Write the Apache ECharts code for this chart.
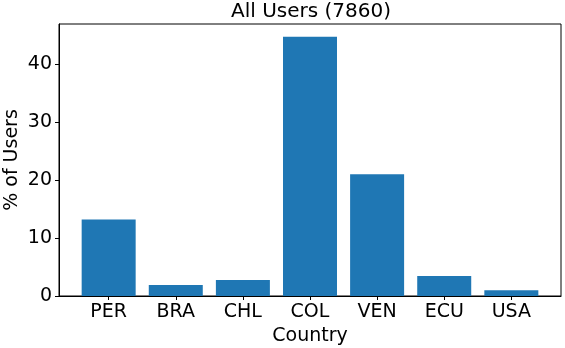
<!DOCTYPE html>
<html>
<head>
<meta charset="utf-8">
<script src="https://cdn.jsdelivr.net/npm/echarts@6/dist/echarts.min.js"></script>
<style>
  html, body { margin: 0; padding: 0; background: #fff; }
  #main { width: 565px; height: 348px; }
</style>
</head>
<body>
<div id="main"></div>
<script>
// data
const countries = ['PER', 'BRA', 'CHL', 'COL', 'VEN', 'ECU', 'USA'];
const pctUsers = [13.2, 1.9, 2.75, 44.7, 21.0, 3.45, 1.0];
const yTicks = [0, 10, 20, 30, 40];

const font = 'DejaVu Sans';
const positions = countries.map((c, i) => i);

let myChart = echarts.init(document.getElementById('main'));
let option = {
  animation: false,
  title: {
    text: 'All Users (7860)',
    left: 311,
    textAlign: 'center',
    top: 2,
    padding: 0,
    textStyle: { fontFamily: font, fontSize: 20, fontWeight: 'normal', color: '#000' }
  },
  grid: {
    left: 59, top: 24, right: 4, bottom: 52,
    outerBoundsMode: 'none',
    containLabel: false,
    show: true, borderColor: '#000', borderWidth: 1
  },
  xAxis: {
    type: 'value',
    min: -0.74,
    max: 6.74,
    name: 'Country',
    nameLocation: 'middle',
    nameGap: 29,
    nameTextStyle: { fontFamily: font, fontSize: 19, color: '#000' },
    splitLine: { show: false },
    axisLine: { show: true, onZero: false, lineStyle: { color: '#000' } },
    axisTick: { show: true, length: 4, inside: false, customValues: positions, lineStyle: { color: '#000' } },
    axisLabel: {
      customValues: positions,
      formatter: v => countries[Math.round(v)],
      fontFamily: font, fontSize: 19, color: '#000', margin: 7
    }
  },
  yAxis: {
    type: 'value',
    min: 0,
    max: 46.9,
    name: '% of Users',
    nameLocation: 'middle',
    nameRotate: 90,
    nameGap: 37,
    nameMoveOverlap: false,
    nameTextStyle: { fontFamily: font, fontSize: 19, color: '#000' },
    splitLine: { show: false },
    axisLine: { show: true, onZero: false, lineStyle: { color: '#000' } },
    axisTick: { show: true, length: 4, customValues: yTicks, lineStyle: { color: '#000' } },
    axisLabel: {
      customValues: yTicks,
      fontFamily: font, fontSize: 19, color: '#000', margin: 7
    }
  },
  series: [{
    type: 'bar',
    barWidth: 54,
    itemStyle: { color: '#1f77b4' },
    data: pctUsers.map((v, i) => [i, v])
  }]
};
myChart.setOption(option);
</script>
</body>
</html>
